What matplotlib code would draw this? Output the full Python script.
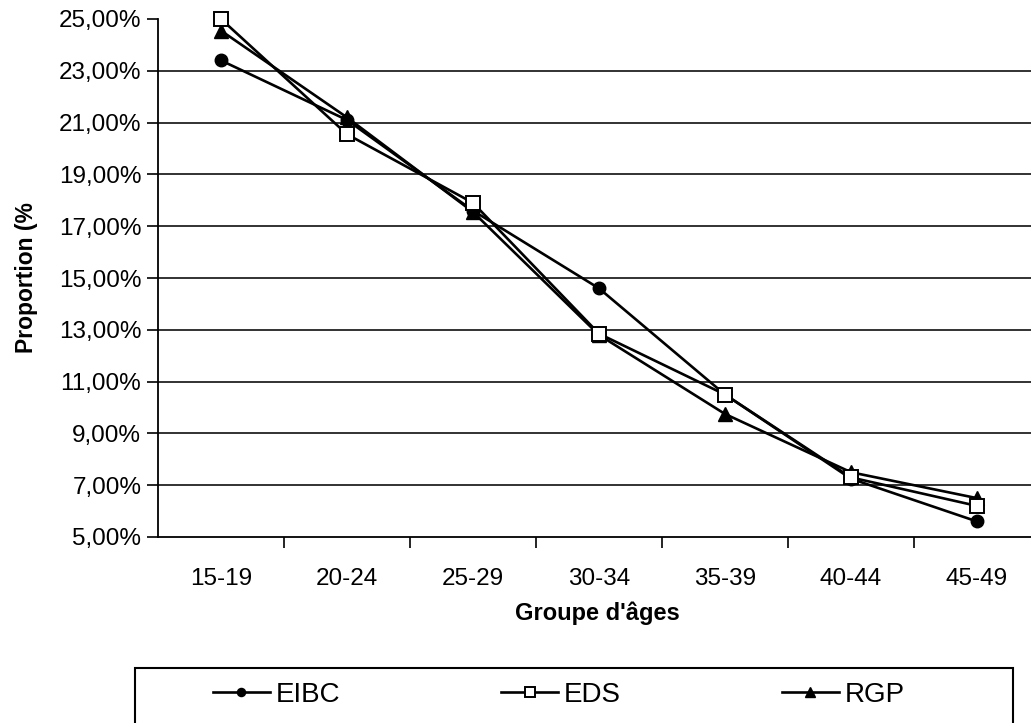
import matplotlib
matplotlib.use("Agg")
import matplotlib.pyplot as plt
from matplotlib.patches import Rectangle
from matplotlib.ticker import FuncFormatter

plt.rcParams['font.family'] = ['Liberation Sans', 'DejaVu Sans']

categories = ["15-19", "20-24", "25-29", "30-34", "35-39", "40-44", "45-49"]
eibc = [23.4, 21.1, 17.6, 14.6, 10.5, 7.25, 5.6]
eds = [25.0, 20.55, 17.9, 12.85, 10.5, 7.3, 6.2]
rgp = [24.55, 21.2, 17.55, 12.8, 9.75, 7.5, 6.5]
yticks = [5, 7, 9, 11, 13, 15, 17, 19, 21, 23, 25]

W, H = 1031, 723
fig = plt.figure(figsize=(W / 100, H / 100), dpi=100)
ax = fig.add_axes([158 / W, 1 - 537 / H, 882 / W, 518 / H])

x = list(range(len(categories)))
for g in yticks[1:-1]:
    ax.axhline(g, color='#222222', lw=1.3, zorder=1)

lw = 1.9
ax.plot(x, eibc, color='black', lw=lw, marker='o', ms=9, mfc='black', mec='black', label='EIBC', zorder=3, clip_on=False)
ax.plot(x, eds, color='black', lw=lw, marker='s', ms=10, mfc='white', mec='black', mew=1.4, label='EDS', zorder=4, clip_on=False)
ax.plot(x, rgp, color='black', lw=lw, marker='^', ms=10, mfc='black', mec='black', label='RGP', zorder=3, clip_on=False)

ax.set_xlim(-0.5, len(categories) - 0.5)
ax.set_ylim(5, 25)
ax.set_yticks(yticks)
ax.yaxis.set_major_formatter(FuncFormatter(lambda v, p: f"{v:.2f}".replace('.', ',') + '%'))
ax.set_xticks(x)
ax.set_xticklabels(categories)
ax.set_xticks([i + 0.5 for i in range(len(categories) - 1)], minor=True)
ax.tick_params(axis='x', which='major', length=0, pad=22, labelsize=17.5)
ax.tick_params(axis='x', which='minor', length=8, width=1.2, direction='out')
ax.tick_params(axis='y', length=8, width=1.2, direction='out', pad=4, labelsize=17.5)
for s in ['top', 'right']:
    ax.spines[s].set_visible(False)
for s in ['left', 'bottom']:
    ax.spines[s].set_linewidth(1.3)

fig.text(597 / W, 1 - 613 / H, "Groupe d'âges", ha='center', va='center', fontsize=17, fontweight='bold')
fig.text(27 / W, 1 - 278 / H, "Proportion (%", ha='center', va='center', rotation=90, fontsize=16.5, fontweight='bold')

fig.patches.append(Rectangle((135 / W, -0.02), 878 / W, (723 - 668) / H + 0.02,
                             transform=fig.transFigure, fill=False, edgecolor='black', lw=1.5))
fig.legend(loc='center left', bbox_to_anchor=(213 / W, 1 - 695 / H), ncol=3, frameon=False,
           fontsize=20, handlelength=2.05, handletextpad=0.2, columnspacing=5.8, borderpad=0,
           borderaxespad=0, markerscale=0.65)

fig.savefig('out.png', dpi=100)
